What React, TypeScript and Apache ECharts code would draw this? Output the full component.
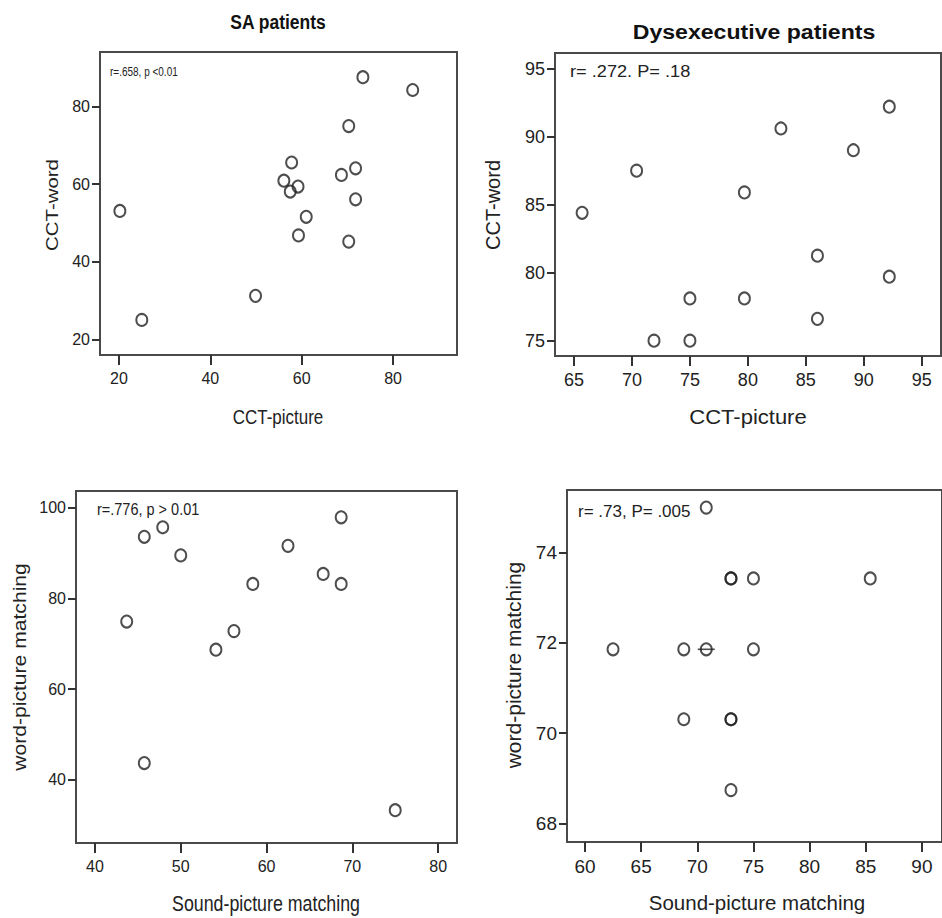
import React, { useEffect, useRef } from "react";
import * as echarts from "echarts";

// SA patients: CCT picture vs CCT word
const saPicture = [20.2, 25.0, 49.9, 57.8, 56.1, 57.5, 59.2, 61.0, 59.3, 70.3, 71.8, 71.8, 68.7, 70.3, 73.4, 84.3];
const saWord = [53.1, 25.0, 31.2, 65.6, 60.9, 58.1, 59.4, 51.6, 46.8, 45.2, 56.1, 64.1, 62.4, 75.0, 87.6, 84.3];

// Dysexecutive patients: CCT picture vs CCT word
const dysPicture = [65.7, 70.4, 71.9, 75.0, 75.0, 79.7, 79.7, 82.85, 86.0, 86.0, 89.1, 92.2, 92.2];
const dysWord = [84.4, 87.5, 75.0, 75.0, 78.1, 78.1, 85.9, 90.6, 81.25, 76.6, 89.0, 92.2, 79.7];

// SA patients: sound-picture vs word-picture matching
const saSound = [43.7, 45.75, 47.9, 50.0, 45.75, 54.1, 56.2, 58.4, 62.5, 66.6, 68.7, 68.7, 75.0];
const saWordPic = [74.9, 93.6, 95.7, 89.5, 43.7, 68.7, 72.8, 83.2, 91.6, 85.4, 97.9, 83.2, 33.3];

// Dysexecutive patients: sound-picture vs word-picture matching
const dysSound = [70.8, 73.0, 73.0, 75.0, 85.4, 62.5, 68.8, 70.8, 75.0, 68.8, 73.0, 73.0, 73.0];
const dysWordPic = [75.0, 73.43, 73.43, 73.43, 73.43, 71.86, 71.86, 71.86, 71.86, 70.31, 70.31, 70.31, 68.74];
// the tied case drawn with a sunflower petal
const dysPetal = [[70.8, 71.86]];

// Tick labels
const ticksSaPicX = [20, 40, 60, 80];
const ticksSaPicY = [20, 40, 60, 80];
const ticksDysPicX = [65, 70, 75, 80, 85, 90, 95];
const ticksDysPicY = [75, 80, 85, 90, 95];
const ticksSaSoundX = [40, 50, 60, 70, 80];
const ticksSaSoundY = [40, 60, 80, 100];
const ticksDysSoundX = [60, 65, 70, 75, 80, 85, 90];
const ticksDysSoundY = [68, 70, 72, 74];

const FONT = '"Liberation Sans", Arial, Helvetica, sans-serif';
const INK = "#222";
const FRAME = "#4a4a4a";

const zip = (xs: number[], ys: number[]) => xs.map((x, i) => [x, ys[i]]);

function makeX(idx: number, min: number, max: number, ticks: number[], size: number) {
  return {
    type: "value",
    gridIndex: idx,
    min,
    max,
    splitLine: { show: false },
    axisLine: { show: true, onZero: false, lineStyle: { color: FRAME, width: 2 } },
    axisTick: { show: true, customValues: ticks, length: 10, lineStyle: { color: "#333", width: 2 } },
    axisLabel: { customValues: ticks, margin: 15, fontFamily: FONT, fontSize: size, color: INK },
  };
}

function makeY(idx: number, min: number, max: number, ticks: number[], size: number) {
  return {
    type: "value",
    gridIndex: idx,
    min,
    max,
    splitLine: { show: false },
    axisLine: { show: true, onZero: false, lineStyle: { color: FRAME, width: 2 } },
    axisTick: { show: true, customValues: ticks, length: 8, lineStyle: { color: "#333", width: 2 } },
    axisLabel: { customValues: ticks, margin: 10, fontFamily: FONT, fontSize: size, color: INK },
  };
}

function makeSeries(idx: number, data: number[][]) {
  return {
    type: "scatter",
    xAxisIndex: idx,
    yAxisIndex: idx,
    data,
    symbol: "circle",
    symbolSize: [11, 12],
    itemStyle: { color: "rgba(255,255,255,0)", borderColor: "#222", borderWidth: 2 },
    emphasis: { disabled: true },
    z: 3,
  };
}

// plain label helper: centred text, optionally stretched / rotated
function label(
  text: string,
  x: number,
  y: number,
  size: number,
  opts: { bold?: boolean; sx?: number; sy?: number; rot?: boolean; left?: boolean } = {}
) {
  return {
    type: "text",
    x,
    y,
    rotation: opts.rot ? Math.PI / 2 : 0,
    scaleX: opts.sx ?? 1,
    scaleY: opts.sy ?? 1,
    silent: true,
    style: {
      text,
      align: opts.left ? "left" : "center",
      verticalAlign: "middle",
      font: `${opts.bold ? "bold " : ""}${size}px ${FONT}`,
      fill: opts.bold ? "#111" : INK,
    },
  };
}

const gridBase = { show: true, borderColor: FRAME, borderWidth: 2, backgroundColor: "transparent", containLabel: false };

export default function App() {
  const ref = useRef<HTMLDivElement>(null);

  useEffect(() => {
    document.body.style.margin = "0";
    if (!ref.current) return;
    const chart = echarts.init(ref.current, undefined, { renderer: "svg" });

    chart.setOption({
      animation: false,
      backgroundColor: "#fff",
      grid: [
        { ...gridBase, left: 100, top: 52, right: 485, bottom: 563 },
        { ...gridBase, left: 555, top: 53, right: 1, bottom: 562 },
        { ...gridBase, left: 76, top: 491, right: 485, bottom: 75 },
        { ...gridBase, left: 567, top: 490, right: -6, bottom: 76 },
      ],
      xAxis: [
        makeX(0, 15.85, 94.0, ticksSaPicX, 16),
        makeX(1, 63.36, 96.66, ticksDysPicX, 18),
        makeX(2, 37.79, 82.2, ticksSaSoundX, 16),
        makeX(3, 58.4, 91.79, ticksDysSoundX, 19),
      ],
      yAxis: [
        makeY(0, 15.95, 94.1, ticksSaPicY, 16),
        makeY(1, 73.87, 96.15, ticksDysPicY, 18),
        makeY(2, 26.06, 103.7, ticksSaSoundY, 16),
        makeY(3, 67.59, 75.39, ticksDysSoundY, 19),
      ],
      series: [
        makeSeries(0, zip(saPicture, saWord)),
        makeSeries(1, zip(dysPicture, dysWord)),
        makeSeries(2, zip(saSound, saWordPic)),
        makeSeries(3, zip(dysSound, dysWordPic)),
        {
          type: "scatter",
          xAxisIndex: 3,
          yAxisIndex: 3,
          data: dysPetal,
          symbol: "rect",
          symbolSize: [17, 1.6],
          itemStyle: { color: "#222" },
          emphasis: { disabled: true },
          z: 4,
        },
      ],
      graphic: [
        // titles
        label("SA patients", 278, 22, 17.5, { bold: true, sy: 1.2 }),
        label("Dysexecutive patients", 754, 32, 21, { bold: true, sx: 1.1 }),
        // correlation notes
        label("r=.658, p <0.01", 110, 72, 10, { left: true, sy: 1.2 }),
        label("r= .272. P= .18", 570, 71, 17, { left: true, sx: 1.07 }),
        label("r=.776, p > 0.01", 97, 509, 14.5, { left: true, sy: 1.2 }),
        label("r= .73, P= .005", 578, 511, 17, { left: true }),
        // axis names
        label("CCT-picture", 278, 417, 17, { sy: 1.2 }),
        label("CCT-word", 52, 205, 17, { rot: true, sx: 1.2 }),
        label("CCT-picture", 748, 417, 20, { sx: 1.1 }),
        label("CCT-word", 493, 205, 20, { rot: true }),
        label("Sound-picture matching", 266, 903, 17.8, { sy: 1.2 }),
        label("word-picture matching", 20, 667, 17.6, { rot: true, sx: 1.2 }),
        label("Sound-picture matching", 757, 902, 20.5),
        label("word-picture matching", 513, 665, 21, { rot: true }),
      ],
    });

    return () => chart.dispose();
  }, []);

  return <div ref={ref} style={{ position: "absolute", left: 0, top: 0, width: 942, height: 918 }} />;
}
